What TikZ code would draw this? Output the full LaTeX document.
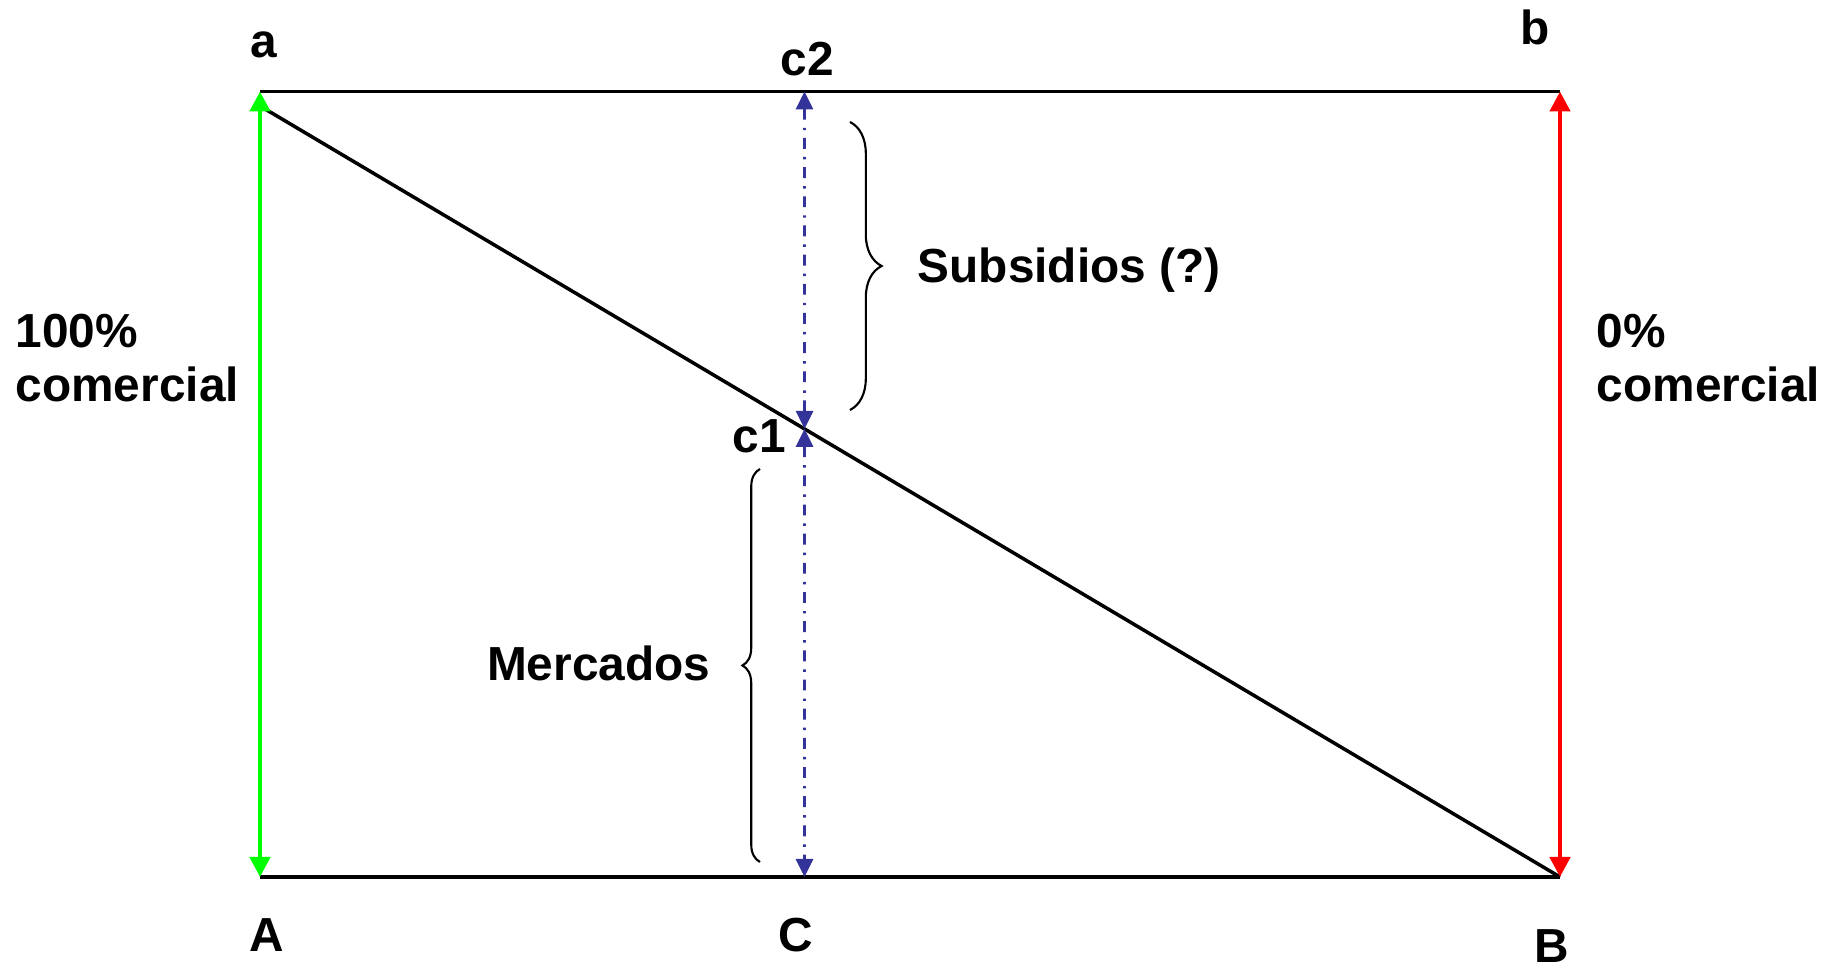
\documentclass[tikz,border=0pt]{standalone}
\usepackage{fontspec}
\setmainfont{Liberation Sans}
\usetikzlibrary{arrows.meta,positioning,calc,decorations.pathreplacing}
\definecolor{verde}{HTML}{00FF00}
\definecolor{rojo}{HTML}{FF0000}
\definecolor{azulC}{HTML}{333399}
\tikzset{
  etiq/.style={inner sep=0pt, font=\fontsize{13.6}{15.5}\selectfont\bfseries},
  borde/.style={line width=1pt, draw=black},
  flecha/.style={{Triangle[length=2mm,width=2mm]}-{Triangle[length=2mm,width=2mm]},
                 line width=1.3pt, color=#1},
  cota/.style={{Triangle[length=1.8mm,width=1.7mm]}-{Triangle[length=1.8mm,width=1.7mm]},
               line width=0.8pt, color=azulC, dash pattern=on 3.1pt off 2.3pt on 0.7pt off 2.2pt},
  llave/.style={decorate, decoration={brace,amplitude=#1}, line width=0.6pt},
}
\begin{document}
\begin{tikzpicture}
  \useasboundingbox (0,0) rectangle (18.39,9.68);
  % esquinas
  \coordinate (pa) at (2.60,8.765);
  \coordinate (pb) at (15.60,8.765);
  \coordinate (pA) at (2.60,0.91);
  \coordinate (pB) at (15.60,0.91);
  \coordinate (pc2) at (8.045,8.765);
  \coordinate (pC) at (8.045,0.91);
  \coordinate (d0) at (2.60,8.62);
  \coordinate (pc1) at (intersection of d0--pB and pc2--pC);
  % llaves
  \coordinate (s1) at (8.50,8.46);
  \coordinate (s2) at (8.50,5.58);
  \coordinate (m1) at (7.60,1.06);
  \coordinate (m2) at (7.60,4.99);

  \draw[borde] (pa) -- (pb);
  \draw[borde] (pA) -- (pB);
  \draw[borde] (d0) -- (pB);
  \draw[flecha=verde] (pA) -- (pa);
  \draw[flecha=rojo] (pB) -- (pb);
  \draw[cota] (pc2) -- (pc1);
  \draw[cota] (pc1) -- (pC);
  \draw[llave=9pt] (s1) -- (s2);
  \draw[llave=5pt] (m1) -- (m2);

  \node[etiq] (la) at (2.64,9.23) {a};
  \node[etiq] (lb) at (15.35,9.41) {b};
  \node[etiq] (lc2) at (8.07,9.09) {c2};
  \node[etiq] (lc1) at (7.59,5.32) {c1};
  \node[etiq] (lA) at (2.67,0.33) {A};
  \node[etiq] (lC) at (7.96,0.33) {C};
  \node[etiq] (lB) at (15.52,0.22) {B};
  \node[etiq, anchor=west, align=left] (cien) at (0.15,6.10) {100\%\\comercial};
  \node[etiq, anchor=west, align=left] (cero) at (15.96,6.10) {0\%\\comercial};
  \node[etiq, anchor=west] (subs) at (9.17,6.98) {Subsidios (?)};
  \node[etiq, anchor=east] (merc) at (7.11,3.05) {Mercados};
\end{tikzpicture}
\end{document}
